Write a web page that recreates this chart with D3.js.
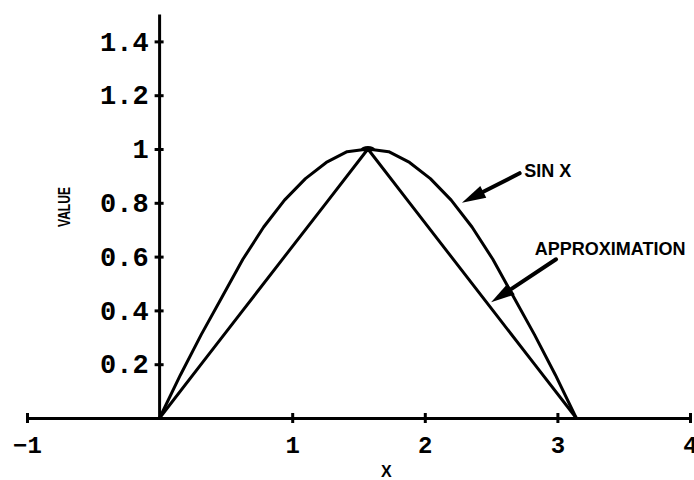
<!DOCTYPE html>
<html>
<head>
<meta charset="utf-8">
<script src="https://cdn.jsdelivr.net/npm/d3@7"></script>
<style>
  body { margin: 0; background: #fff; }
  svg { display: block; }
  .curve { fill: none; stroke: #000; stroke-width: 3; stroke-linejoin: round; stroke-linecap: round; }
  .axis path, .axis line { stroke: #000; stroke-width: 3; }
  .axis text { font-family: "Liberation Mono", "DejaVu Sans Mono", monospace; font-weight: bold; fill: #000; }
  .lbl { font-family: "Liberation Sans", Arial, sans-serif; font-weight: bold; fill: #000; }
</style>
</head>
<body>
<div id="chart"></div>
<script>
"use strict";
// sample points along x (radians)
var sinX = [0, 0.157, 0.314, 0.471, 0.628, 0.785, 0.942, 1.1, 1.257, 1.414, 1.571,
  1.728, 1.885, 2.042, 2.199, 2.356, 2.513, 2.67, 2.827, 2.985, 3.142];
var sinVals = [0, 0.16, 0.31, 0.45, 0.59, 0.71, 0.81, 0.89, 0.95, 0.99, 1.0,
  0.99, 0.95, 0.89, 0.81, 0.71, 0.59, 0.45, 0.31, 0.16, 0];

var approxX = [0, 0.314, 0.628, 0.942, 1.257, 1.571, 1.885, 2.199, 2.513, 2.827, 3.142];
var approxVals = [0, 0.2, 0.4, 0.6, 0.8, 1.0, 0.8, 0.6, 0.4, 0.2, 0];

var xTicks = [-1, 1, 2, 3, 4];
var yTicks = [0.2, 0.4, 0.6, 0.8, 1, 1.2, 1.4];

// callouts: tip on curve, tail of arrow, label start (data units)
var notes = [
  { text: "SIN X", tip: [2.28, 0.80], tail: [2.715, 0.91], at: [2.75, 0.92] },
  { text: "APPROXIMATION", tip: [2.50, 0.43], tail: [2.99, 0.59], at: [2.83, 0.63] }
];

var w = 694, h = 480;

var svg = d3.select("#chart").append("svg")
  .attr("width", w)
  .attr("height", h);

var x = d3.scaleLinear().domain([-1, 4]).range([27, 690]);
var y = d3.scaleLinear().domain([0, 1.5]).range([418, 14.5]);

//x axis, ticks cross the line
var gx = svg.append("g")
  .attr("class", "axis")
  .attr("transform", "translate(0," + y(0) + ")")
  .call(d3.axisBottom(x).tickValues(xTicks).tickSizeOuter(0).tickSizeInner(5).tickPadding(13)
    .tickFormat(d3.format("d")));
gx.selectAll(".tick line").attr("y1", -5).attr("y2", 5);
gx.selectAll(".tick text").style("font-size", "24px");

var gy = svg.append("g")
  .attr("class", "axis")
  .attr("transform", "translate(" + x(0) + ",0)")
  .call(d3.axisLeft(y).tickValues(yTicks).tickSizeOuter(0).tickSizeInner(5).tickPadding(6)
    .tickFormat(function(d) { return d === 1 ? "1" : d3.format(".1f")(d); }));
gy.selectAll(".tick line").attr("x1", -5).attr("x2", 4);
gy.selectAll(".tick text").style("font-size", "27px");
// y axis line runs from 0 up to the top of the range
gy.select(".domain").attr("d", "M0," + y(0) + "V" + y(1.5));

var line = d3.line()
  .x(function(d) { return x(d[0]); })
  .y(function(d) { return y(d[1]); });

svg.append("path")
  .attr("class", "curve")
  .attr("d", line(d3.zip(sinX, sinVals)));

svg.append("path")
  .attr("class", "curve")
  .attr("d", line(d3.zip(approxX, approxVals)));

// small blob where both curves meet at the peak
svg.append("ellipse")
  .attr("cx", x(1.571))
  .attr("cy", y(1.0))
  .attr("rx", 7)
  .attr("ry", 3)
  .attr("fill", "#000");

//callout arrows
notes.forEach(function(n) {
  var x1 = x(n.tail[0]), y1 = y(n.tail[1]);
  var x2 = x(n.tip[0]), y2 = y(n.tip[1]);
  var ang = Math.atan2(y2 - y1, x2 - x1);
  var len = 24, half = 6.5;
  var bx = x2 - len * Math.cos(ang), by = y2 - len * Math.sin(ang);
  svg.append("line")
    .attr("x1", x1).attr("y1", y1)
    .attr("x2", bx).attr("y2", by)
    .attr("stroke", "#000").attr("stroke-width", 4).attr("stroke-linecap", "round");
  svg.append("path")
    .attr("d", "M" + x2 + "," + y2 +
      "L" + (bx + half * Math.sin(ang)) + "," + (by - half * Math.cos(ang)) +
      "L" + (bx - half * Math.sin(ang)) + "," + (by + half * Math.cos(ang)) + "Z")
    .attr("fill", "#000");
  svg.append("text")
    .attr("class", "lbl")
    .attr("x", x(n.at[0]))
    .attr("y", y(n.at[1]))
    .attr("dy", "0.35em")
    .style("font-size", "18px")
    .text(n.text);
});

// axis titles
svg.append("text")
  .attr("class", "lbl")
  .attr("x", x(1.71))
  .attr("y", 477)
  .attr("text-anchor", "middle")
  .style("font-size", "16px")
  .text("X");

svg.append("text")
  .attr("class", "lbl")
  .attr("transform", "translate(70,207) rotate(-90)")
  .attr("text-anchor", "middle")
  .attr("textLength", 40)
  .attr("lengthAdjust", "spacingAndGlyphs")
  .style("font-size", "17px")
  .text("VALUE");
</script>
</body>
</html>
